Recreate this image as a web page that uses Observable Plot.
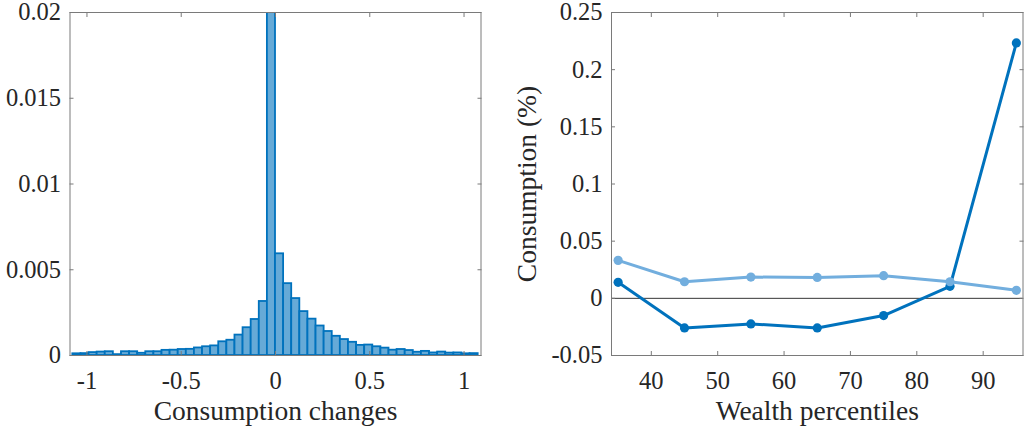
<!DOCTYPE html>
<html><head><meta charset="utf-8">
<script src="https://cdn.jsdelivr.net/npm/d3@7"></script>
<script src="https://cdn.jsdelivr.net/npm/@observablehq/plot@0.6"></script>
<style>
body{margin:0;background:#fff;}
#wrap{position:relative;width:1024px;height:427px;overflow:hidden;background:#fff;}
#left,#right{position:absolute;top:0;}
#left{left:0}
#right{left:512px}
</style></head><body>
<div id="wrap"><div id="left"></div><div id="right"></div></div>
<script>
// ---- Left panel: histogram of consumption changes ----
const binEdges = [-1.075,-1.032,-0.989,-0.946,-0.903,-0.860,-0.817,-0.774,-0.731,-0.688,
  -0.645,-0.602,-0.559,-0.516,-0.473,-0.430,-0.387,-0.344,-0.301,-0.258,
  -0.215,-0.172,-0.129,-0.086,-0.043,0,0.043,0.086,0.129,0.172,
  0.215,0.258,0.301,0.344,0.387,0.430,0.473,0.516,0.559,0.602,
  0.645,0.688,0.731,0.774,0.817,0.860,0.903,0.946,0.989,1.032,1.075];
const binFreq = [0.00010,0.00011,0.00017,0.00020,0.00022,0.00005,0.00022,0.00022,0.00013,0.00022,
  0.00022,0.00030,0.00031,0.00035,0.00036,0.00044,0.00051,0.00056,0.00080,0.00089,
  0.00119,0.00162,0.00210,0.00315,0.02500,0.00593,0.00419,0.00332,0.00256,0.00212,
  0.00172,0.00140,0.00112,0.00093,0.00077,0.00059,0.00061,0.00051,0.00043,0.00031,
  0.00035,0.00029,0.00019,0.00024,0.00015,0.00020,0.00014,0.00015,0.00010,0.00011];
const xTicksL = [-1,-0.5,0,0.5,1];
const xTickLabelsL = ["-1","-0.5","0","0.5","1"];
const yTicksL = [0,0.005,0.01,0.015,0.02];
const yTickLabelsL = ["0","0.005","0.01","0.015","0.02"];
const xLabelL = ["Consumption changes"];

// ---- Right panel: consumption by wealth percentile ----
const wealthPct = [35,45,55,65,75,85,95];
const consDark = [0.0140,-0.0259,-0.0224,-0.0259,-0.0151,0.0105,0.2234];
const consLight = [0.0332,0.0145,0.0186,0.0183,0.0198,0.0145,0.0070];
const xTicksR = [40,50,60,70,80,90];
const xTickLabelsR = ["40","50","60","70","80","90"];
const yTicksR = [-0.05,0,0.05,0.1,0.15,0.2,0.25];
const yTickLabelsR = ["-0.05","0","0.05","0.1","0.15","0.2","0.25"];
const xLabelR = ["Wealth percentiles"];
const yLabelR = ["Consumption (%)"];

const FONT = "'Liberation Serif', 'Times New Roman', serif";
const TICKFS = 24.5, LABELFS = 27.5;
const TXT = "#262626", BOX = "#7a7a7a";

const hist = binFreq.map((v, i) => ({x1: binEdges[i], x2: binEdges[i + 1], y: v}));
const darkRows = wealthPct.map((w, i) => ({w, v: consDark[i]}));
const lightRows = wealthPct.map((w, i) => ({w, v: consLight[i]}));

function fmt(ticks, labels) { return d => labels[ticks.indexOf(d)]; }

function boxAxes(xt, xl, yt, yl) {
  return [
    Plot.frame({stroke: BOX, strokeWidth: 1}),
    Plot.axisX(xt, {anchor: "bottom", tickSize: -4, tickFormat: () => "", label: null, stroke: BOX}),
    Plot.axisX(xt, {anchor: "top", tickSize: -4, tickFormat: () => "", label: null, stroke: BOX}),
    Plot.axisY(yt, {anchor: "left", tickSize: -4, tickFormat: () => "", label: null, stroke: BOX}),
    Plot.axisY(yt, {anchor: "right", tickSize: -4, tickFormat: () => "", label: null, stroke: BOX}),
    Plot.axisX(xt, {anchor: "bottom", tickSize: 0, tickPadding: 16, tickFormat: fmt(xt, xl), label: null, fontSize: TICKFS, fill: TXT}),
    Plot.axisY(yt, {anchor: "left", tickSize: 0, tickPadding: 9, tickFormat: fmt(yt, yl), label: null, fontSize: TICKFS, fill: TXT})
  ];
}

const left = Plot.plot({
  width: 512, height: 427,
  marginLeft: 69.5, marginRight: 31.5, marginTop: 12, marginBottom: 72,
  x: {domain: [-1.09, 1.09]},
  y: {domain: [0, 0.02]},
  style: {fontFamily: FONT, fontSize: TICKFS + "px", color: TXT, background: "white", overflow: "visible"},
  marks: [
    Plot.rect(hist, {x1: "x1", x2: "x2", y1: 0, y2: "y", fill: "#66AAD7", stroke: "#0072BD", strokeWidth: 1.8, clip: true}),
    ...boxAxes(xTicksL, xTickLabelsL, yTicksL, yTickLabelsL),
    Plot.text(xLabelL, {text: d => d, frameAnchor: "bottom", dy: 56, lineAnchor: "middle", textAnchor: "middle", fontSize: LABELFS, fill: TXT})
  ]
});
document.getElementById("left").appendChild(left);

const right = Plot.plot({
  width: 512, height: 427,
  marginLeft: 99, marginRight: 1.5, marginTop: 12, marginBottom: 72,
  x: {domain: [34, 96]},
  y: {domain: [-0.05, 0.25]},
  style: {fontFamily: FONT, fontSize: TICKFS + "px", color: TXT, background: "white", overflow: "visible"},
  marks: [
    Plot.ruleY([0], {stroke: "black", strokeWidth: 0.8}),
    Plot.line(darkRows, {x: "w", y: "v", stroke: "#0072BD", strokeWidth: 3}),
    Plot.dot(darkRows, {x: "w", y: "v", r: 4.6, fill: "#0072BD"}),
    Plot.line(lightRows, {x: "w", y: "v", stroke: "#72AEDE", strokeWidth: 3}),
    Plot.dot(lightRows, {x: "w", y: "v", r: 4.6, fill: "#72AEDE"}),
    ...boxAxes(xTicksR, xTickLabelsR, yTicksR, yTickLabelsR),
    Plot.text(xLabelR, {text: d => d, frameAnchor: "bottom", dy: 56, lineAnchor: "middle", textAnchor: "middle", fontSize: LABELFS, fill: TXT}),
    Plot.text(yLabelR, {text: d => d, frameAnchor: "left", dx: -84, rotate: -90, lineAnchor: "middle", textAnchor: "middle", fontSize: LABELFS, fill: TXT})
  ]
});
document.getElementById("right").appendChild(right);
</script>
</body></html>
